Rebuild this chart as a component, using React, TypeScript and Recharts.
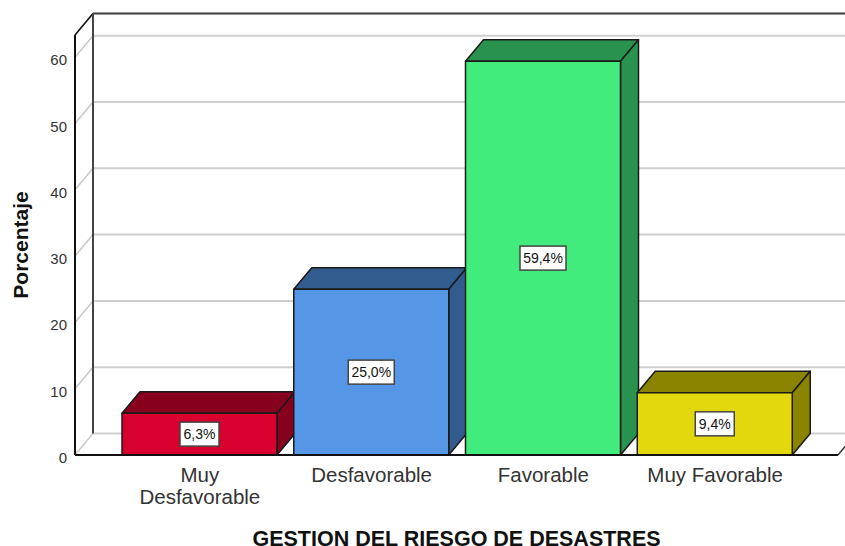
import { BarChart, Bar, XAxis, YAxis, CartesianGrid, LabelList, usePlotArea } from 'recharts';

const categories = ['Muy\nDesfavorable', 'Desfavorable', 'Favorable', 'Muy Favorable'];
const percentages = [6.3, 25.0, 59.4, 9.4];
const yTicks = [0, 10, 20, 30, 40, 50, 60];

const FRONT_COLORS = ['#D7002F', '#5596E6', '#41EC7D', '#E3D80D'];
const SHADE_COLORS = ['#87001E', '#335C8E', '#29924F', '#8B8400'];

const DX = 18;
const DY = 21.5;
const FONT = '"Liberation Sans", Arial, sans-serif';

const data = categories.map((name, i) => ({ name, value: percentages[i] }));

function WallLine({ x1, y1, x2 }: any) {
  return (
    <g>
      <line x1={x1} y1={y1} x2={x1 + DX} y2={y1 - DY} stroke="#c8c8c8" strokeWidth={1.5} />
      <line x1={x1 + DX} y1={y1 - DY} x2={x2 + DX} y2={y1 - DY} stroke="#cfcfcf" strokeWidth={2} />
      {y1 > 450 && <line x1={x2} y1={y1} x2={x2 + DX} y2={y1 - DY} stroke="#333" strokeWidth={1.5} />}
    </g>
  );
}

// back wall edges, follows the plot area
function Frame() {
  const area = usePlotArea();
  if (!area) return null;
  const { x, y, width, height } = area;
  return (
    <g>
      <line x1={x} y1={y} x2={x + DX} y2={y - DY} stroke="#111" strokeWidth={1.5} />
      <line x1={x + DX} y1={y - DY} x2={x + width + DX} y2={y - DY} stroke="#444" strokeWidth={2} />
      <line x1={x + DX} y1={y - DY} x2={x + DX} y2={y + height - DY} stroke="#444" strokeWidth={2} />
    </g>
  );
}

function Box3D({ x, y, width, height, index }: any) {
  const r = x + width;
  const b = y + height;
  const top = `${x},${y} ${x + DX},${y - DY} ${r + DX},${y - DY} ${r},${y}`;
  const side = `${r},${y} ${r + DX},${y - DY} ${r + DX},${b - DY} ${r},${b}`;
  return (
    <g stroke="#1a1a1a" strokeWidth={1.5} strokeLinejoin="round">
      <polygon points={top} fill={SHADE_COLORS[index]} />
      <polygon points={side} fill={SHADE_COLORS[index]} />
      <rect x={x} y={y} width={width} height={height} fill={FRONT_COLORS[index]} />
    </g>
  );
}

function ValueTag({ x, y, width, height, value }: any) {
  const cx = x + width / 2;
  const cy = y + height / 2;
  const text = Number(value).toFixed(1).replace('.', ',') + '%';
  const boxW = text.length * 7 + 11;
  return (
    <g>
      <rect x={cx - boxW / 2} y={cy - 12} width={boxW} height={24} fill="#fff" stroke="#444" strokeWidth={1.5} />
      <text x={cx} y={cy + 5} textAnchor="middle" fontSize={14} fontFamily={FONT} fill="#111">
        {text}
      </text>
    </g>
  );
}

function CategoryTick({ x, y, payload }: any) {
  const lines = String(payload.value).split('\n');
  return (
    <text textAnchor="middle" fontSize={20.5} fontFamily={FONT} fill="#333">
      {lines.map((line, i) => (
        <tspan key={line} x={x} y={y + 19 + i * 22}>
          {line}
        </tspan>
      ))}
    </text>
  );
}

function ValueTick({ x, y, payload }: any) {
  return (
    <text x={x} y={y + 8} textAnchor="end" fontSize={15} fontFamily={FONT} fill="#333">
      {payload.value}
    </text>
  );
}

export default function App() {
  return (
    <div style={{ position: 'absolute', left: 0, top: 0, width: 845, height: 546, background: '#fff', overflow: 'hidden' }}>
      <BarChart
        width={845}
        height={546}
        data={data}
        margin={{ top: 35, right: 7, left: 0, bottom: 0 }}
        barCategoryGap={8}
        barSize={155}
      >
        <CartesianGrid vertical={false} horizontal={WallLine as any} />
        <Frame />
        <XAxis
          dataKey="name"
          interval={0}
          height={91}
          padding={{ left: 39, right: 37 }}
          tickLine={false}
          axisLine={{ stroke: '#111', strokeWidth: 2 }}
          tick={<CategoryTick />}
          label={{
            value: 'GESTION DEL RIESGO DE DESASTRES',
            position: 'insideBottom',
            offset: 0,
            fontSize: 21.5,
            fontWeight: 700,
            fontFamily: FONT,
            fill: '#111',
          }}
        />
        <YAxis
          width={75}
          domain={[0, 63.35]}
          ticks={yTicks}
          interval={0}
          tickLine={false}
          axisLine={{ stroke: '#111', strokeWidth: 2 }}
          tickMargin={2}
          tick={<ValueTick />}
          label={{
            value: 'Porcentaje',
            angle: -90,
            position: 'center',
            dx: -17,
            fontSize: 21,
            fontWeight: 700,
            fontFamily: FONT,
            fill: '#111',
          }}
        />
        <Bar dataKey="value" isAnimationActive={false} shape={<Box3D />}>
          <LabelList dataKey="value" content={<ValueTag />} />
        </Bar>
      </BarChart>
    </div>
  );
}
